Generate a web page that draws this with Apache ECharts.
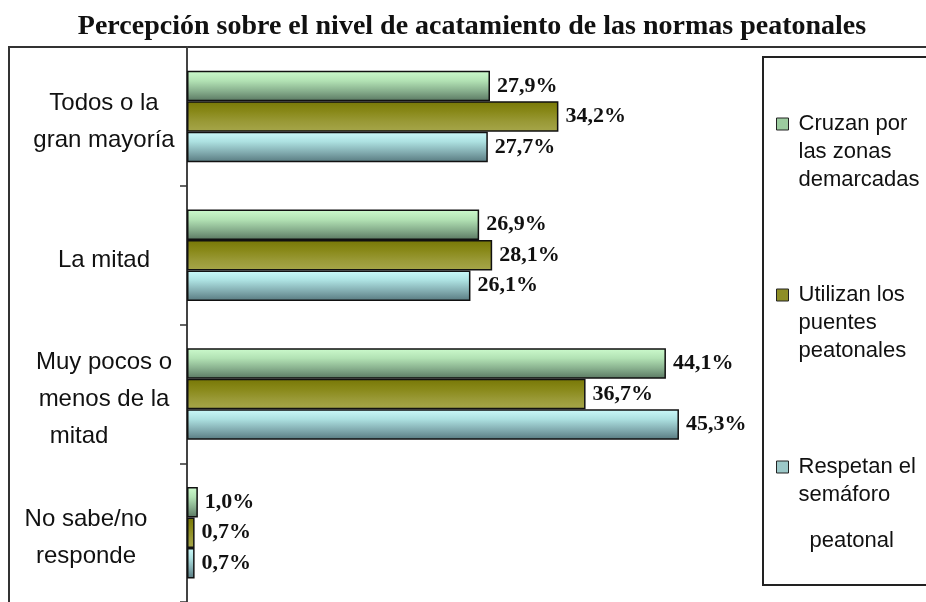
<!DOCTYPE html>
<html>
<head>
<meta charset="utf-8">
<script src="https://cdn.jsdelivr.net/npm/echarts@6/dist/echarts.min.js"></script>
<style>
  html, body { margin: 0; padding: 0; background: #fff; }
  #chart { width: 926px; height: 602px; }
</style>
</head>
<body>
<div id="chart"></div>
<script>
// categorias (eje vertical, de arriba a abajo)
const categories = ['Todos o la\ngran mayoría', 'La mitad', 'Muy pocos o\nmenos de la\nmitad', 'No sabe/no\nresponde'];
const seriesNames = ['Cruzan por las zonas demarcadas', 'Utilizan los puentes peatonales', 'Respetan el semáforo peatonal'];
const cruzan = [27.9, 26.9, 44.1, 1.0];
const utilizan = [34.2, 28.1, 36.7, 0.7];
const respetan = [27.7, 26.1, 45.3, 0.7];

const chart = echarts.init(document.getElementById('chart'));

// degradado vertical dentro de cada barra
function grad(stops) {
  return {
    type: 'linear', x: 0, y: 0, x2: 0, y2: 1,
    colorStops: stops.map((c, i) => ({ offset: i / (stops.length - 1), color: c }))
  };
}
const fills = [
  grad(['#cdfbcd', '#b2e2b4', '#88b08e', '#5a7862']),
  grad(['#777706', '#888818', '#999936', '#a6a64a']),
  grad(['#ccfafa', '#ace0e0', '#84aeb2', '#587a80'])
];
const iconColors = ['#9ccc9f', '#8e8e26', '#9cc8c8'];

const fmtPct = p => p.value.toFixed(1).replace('.', ',') + '%';

function makeSeries(name, data, i) {
  return {
    name: name,
    type: 'bar',
    data: data,
    barWidth: 30.5,
    barGap: '0%',
    itemStyle: { color: fills[i], borderColor: '#111', borderWidth: 1.5 },
    label: {
      show: true,
      position: 'right',
      distance: 7,
      formatter: fmtPct,
      fontFamily: 'Liberation Serif',
      fontWeight: 'bold',
      fontSize: 22,
      color: '#111'
    }
  };
}

const txt = { fontFamily: 'Liberation Sans', fontSize: 22, color: '#111', lineHeight: 28, padding: [0, 0, 0, 5] };

function legendFor(i, top, fmt, rich) {
  return {
    data: [{ name: seriesNames[i], icon: 'rect' }],
    orient: 'vertical',
    left: 776,
    top: top,
    padding: 0,
    itemWidth: 12,
    itemHeight: 12,
    itemStyle: { color: iconColors[i], borderColor: '#222', borderWidth: 1 },
    formatter: fmt,
    textStyle: { fontFamily: 'Liberation Sans', fontSize: 22, color: '#111', rich: rich }
  };
}

const option = {
  animation: false,
  title: {
    text: 'Percepción sobre el nivel de acatamiento de las normas peatonales',
    left: 472,
    textAlign: 'center',
    top: 13,
    padding: 0,
    textStyle: { fontFamily: 'Liberation Serif', fontWeight: 'bold', fontSize: 28, color: '#111' }
  },
  graphic: [
    { type: 'rect', shape: { x: 9, y: 47, width: 1000, height: 600 }, style: { fill: 'none', stroke: '#333', lineWidth: 2 } },
    { type: 'rect', shape: { x: 763, y: 57, width: 200, height: 528 }, style: { fill: 'none', stroke: '#222', lineWidth: 2 } }
  ],
  legend: [
    legendFor(0, 71, () => '{g| }\n{t|Cruzan por}\n{t|las zonas}\n{t|demarcadas}',
      { g: { lineHeight: 56, fontSize: 22 }, t: txt }),
    legendFor(1, 242, () => '{g| }\n{t|Utilizan los}\n{t|puentes}\n{t|peatonales}',
      { g: { lineHeight: 56, fontSize: 22 }, t: txt }),
    legendFor(2, 396, () => '{g| }\n{t|Respetan el}\n{t|semáforo}\n{p|peatonal}',
      { g: { lineHeight: 92, fontSize: 22 }, t: txt,
        p: { fontFamily: 'Liberation Sans', fontSize: 22, color: '#111', lineHeight: 64, padding: [0, 0, 0, 16] } })
  ],
  grid: { left: 187, top: 47, width: 543, height: 562 },
  xAxis: {
    type: 'value',
    min: 0,
    max: 50,
    show: false
  },
  yAxis: {
    type: 'category',
    inverse: true,
    data: categories,
    axisLine: { show: true, lineStyle: { color: '#444', width: 2 } },
    axisTick: { show: true, length: 7, lineStyle: { color: '#333', width: 1.5 } },
    axisLabel: {
      margin: 83,
      align: 'center',
      padding: [10, 0, 0, 0],
      formatter: function (value) {
        return value.split('\n').map(l => {
          if (l === 'mitad' && value.indexOf('Muy') === 0) return '{m|' + l + '}';
          if (value.indexOf('No sabe') === 0) return '{n|' + l + '}';
          return '{a|' + l + '}';
        }).join('\n');
      },
      rich: {
        a: { fontFamily: 'Liberation Sans', fontSize: 24, color: '#111', lineHeight: 37 },
        m: { fontFamily: 'Liberation Sans', fontSize: 24, color: '#111', lineHeight: 37, padding: [0, 50, 0, 0] },
        n: { fontFamily: 'Liberation Sans', fontSize: 24, color: '#111', lineHeight: 37, padding: [0, 36, 0, 0] }
      }
    }
  },
  series: [
    makeSeries(seriesNames[0], cruzan, 0),
    makeSeries(seriesNames[1], utilizan, 1),
    makeSeries(seriesNames[2], respetan, 2)
  ]
};

chart.setOption(option);
</script>
</body>
</html>
